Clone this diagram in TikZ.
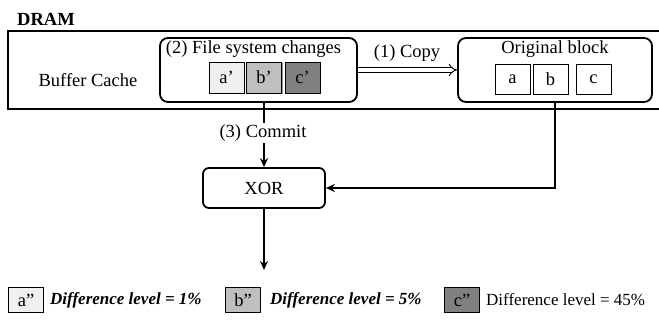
\documentclass[tikz,border=0pt]{standalone}
\usepackage{fontspec}
\setmainfont{Liberation Serif}
\usetikzlibrary{arrows.meta,shadows}
\begin{document}
\begin{tikzpicture}[x=1pt,y=-1pt,
  txt/.style={font=\fontsize{18.5}{22}\selectfont, inner sep=0pt},
  legtxt/.style={font=\fontsize{17}{20}\selectfont, inner sep=0pt, anchor=west},
  rbox/.style={draw, line width=1.8pt, rounded corners=8pt, inner sep=0pt},
  cell/.style={draw, line width=0.8pt, minimum width=35pt, minimum height=31pt, inner sep=0pt,
    font=\fontsize{18.5}{22}\selectfont,
    drop shadow={shadow xshift=1.2pt, shadow yshift=-1.2pt, opacity=0.45, fill=black}},
  legcell/.style={draw, line width=0.8pt, minimum width=35pt, minimum height=25pt, inner sep=0pt,
    font=\fontsize{18.5}{22}\selectfont},
  conn/.style={line width=1.8pt, -{Stealth[length=9pt,width=8pt]}}
]
\useasboundingbox (0,0) rectangle (659,320);
\definecolor{shA}{gray}{0.94}
\definecolor{shB}{gray}{0.75}
\definecolor{shC}{gray}{0.50}

% DRAM outer
\node[txt, font=\fontsize{18.5}{22}\selectfont\bfseries, anchor=west] (dram) at (17,19) {DRAM};
\node[draw, line width=2.2pt, minimum width=656pt, minimum height=78pt, inner sep=0pt] (outer) at (336,70) {};
\node[txt] (bc) at (88,80) {Buffer Cache};

% File system changes
\node[rbox, minimum width=197pt, minimum height=64pt] (fs) at (258.5,70) {};
\node[txt] (fst) at (253.5,49) {(2) File system changes};
\node[cell, fill=shA] (ap) at (226.5,77.5) {a'};
\node[cell, fill=shB] (bp) at (264,77.5) {b'};
\node[cell, fill=shC] (cp) at (302.5,77.5) {c'};

% Original block
\node[rbox, minimum width=194pt, minimum height=64pt] (orig) at (555,70) {};
\node[txt] (ort) at (555,49) {Original block};
\node[cell, fill=white, minimum height=30pt] (a) at (512.5,79) {a};
\node[cell, fill=white, minimum height=30pt] (b) at (550.5,79) {b};
\node[cell, fill=white, minimum height=30pt] (c) at (593.5,79) {c};

% Copy arrow
\draw[double, double distance=3.5pt, line width=0.9pt, -{Implies[length=7pt]}] (fs.east |- 0,70) -- (orig.west |- 0,70);
\node[txt] (copy) at (407,53) {(1) Copy};

% XOR
\node[rbox, rounded corners=6pt, minimum width=122pt, minimum height=40pt] (xor) at (264,188) {};
\node[txt] (xort) at (xor.center) {XOR};

\draw[conn] (xor.north |- fs.south) -- (xor.north);
\node[txt, fill=white, inner sep=2pt] (commit) at (263,133) {(3) Commit};
\draw[conn] (orig.south) |- (xor.east);
\coordinate (out) at (264,270);
\draw[conn] (xor.south) -- (out);

% Legend
\node[legcell, fill=shA] (app) at (26,300) {a''};
\node[legtxt, font=\fontsize{17}{20}\selectfont\bfseries\itshape] (la) at (50,300) {Difference level = 1\%};
\node[legcell, fill=shB] (bpp) at (243,300) {b''};
\node[legtxt, font=\fontsize{17}{20}\selectfont\bfseries\itshape] (lb) at (270,300) {Difference level = 5\%};
\node[legcell, fill=shC] (cpp) at (462,300) {c''};
\node[legtxt] (lc) at (486,300) {Difference level = 45\%};
\end{tikzpicture}
\end{document}
